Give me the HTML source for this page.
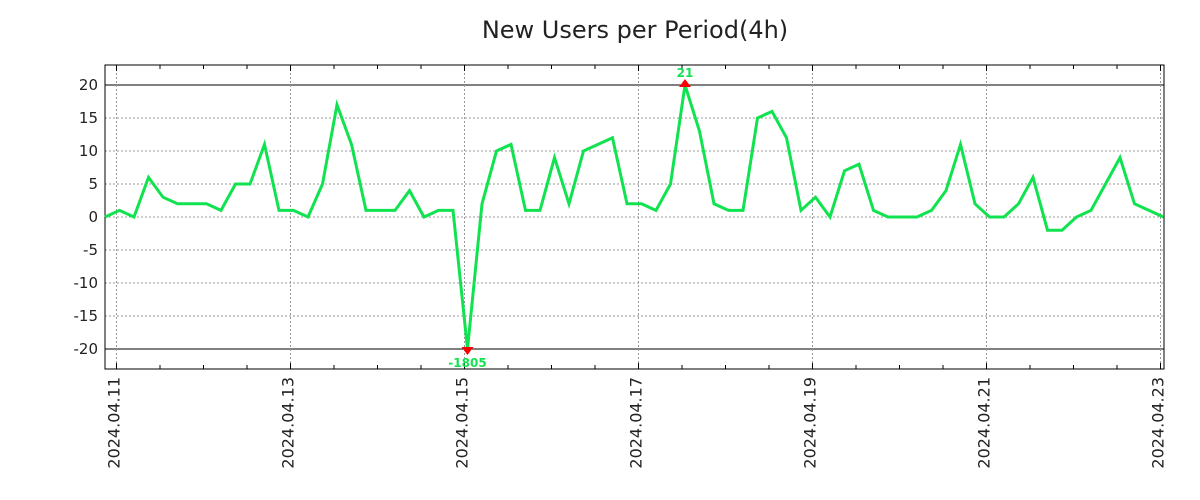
<!DOCTYPE html>
<html><head><meta charset="utf-8"><style>
html,body{margin:0;padding:0;background:#fff;}
svg{display:block;font-family:"DejaVu Sans","Liberation Sans",sans-serif;}
</style></head><body>
<svg id="chart" width="1200" height="500" viewBox="0 0 1200 500">
<rect width="1200" height="500" fill="#fff"/>
<text x="635" y="38" font-size="24" text-anchor="middle" fill="#222">New Users per Period(4h)</text>
<g id="grid"></g><g id="axes"></g><g id="series"></g>
</svg>
<script>
const yTicks=[20,15,10,5,0,-5,-10,-15,-20];
const dateLabels=["2024.04.11","2024.04.13","2024.04.15","2024.04.17","2024.04.19","2024.04.21","2024.04.23"];
const values=[0,1,0,6,3,2,2,2,1,5,5,11,1,1,0,5,17,11,1,1,1,4,0,1,1,-1805,2,10,11,1,1,9,2,10,11,12,2,2,1,5,21,13,2,1,1,15,16,12,1,3,0,7,8,1,0,0,0,1,4,11,2,0,0,2,6,-2,-2,0,1,5,9,2,1,0];
const minIdx=25, maxIdx=40;
const L=105,R=1164,T=65,B=369;
const NS="http://www.w3.org/2000/svg";
function y(v){return 217-v*6.6;}
function xi(i){return 105+i*14.5;}
function xDay(d){return 116.5+d*87;}
function el(t,a,p){const e=document.createElementNS(NS,t);for(const k in a)e.setAttribute(k,a[k]);p.appendChild(e);return e;}
const grid=document.getElementById('grid'),axes=document.getElementById('axes'),ser=document.getElementById('series');
yTicks.forEach(v=>{
 const solid=Math.abs(v)===20;
 const g=el('line',{x1:L,x2:R,y1:y(v),y2:y(v),stroke:solid?'#000':'#999','stroke-width':1,'stroke-dasharray':solid?'':'2,2'},grid);
 
 
 const t=el('text',{x:98,y:y(v)+5,'font-size':15,'text-anchor':'end',fill:'#222'},axes);
 
 
 t.textContent=v;
});
dateLabels.forEach((d,i)=>{
 const x=xDay(i*2);
 const g=el('line',{x1:x,x2:x,y1:T,y2:B,stroke:'#999','stroke-dasharray':'2,2'},grid);
 
 
 const t=el('text',{x:0,y:0,'font-size':16,'text-anchor':'end',fill:'#222',transform:`translate(${x+3},377) rotate(-90)`},axes);
 
 
 t.textContent=d;
});
for(let h=0;h<=24;h++){
 const x=xDay(h/2);if(x>R)break;
 const len=h%4===0?6:4;
 el('line',{x1:x,x2:x,y1:B,y2:B-len,stroke:'#000'},axes);
 el('line',{x1:x,x2:x,y1:T,y2:T+len,stroke:'#000'},axes);
}
const fr=el('rect',{x:L,y:T,width:R-L,height:B-T,fill:'none',stroke:'#000','stroke-width':1},axes);


const pts=values.map((v,i)=>xi(i)+','+y(Math.max(-20,Math.min(20,v)))).join(' ');
const line=el('polyline',{points:pts,fill:'none',stroke:'#11e350','stroke-width':3,'stroke-linejoin':'miter'},ser);


const mx=xi(maxIdx),my=y(20);
const up=el('polygon',{points:`${mx-6},${my+2} ${mx+6},${my+2} ${mx},${my-6}`,fill:'#f00'},ser);


const mt=el('text',{x:mx,y:my-8,'font-size':12,'font-weight':'bold','text-anchor':'middle',fill:'#11e350'},ser);


mt.textContent=values[maxIdx];
const nx=xi(minIdx),ny=y(-20);
const dn=el('polygon',{points:`${nx-6},${ny-2} ${nx+6},${ny-2} ${nx},${ny+6}`,fill:'#f00'},ser);


const nt=el('text',{x:nx,y:ny+18,'font-size':12,'font-weight':'bold','text-anchor':'middle',fill:'#11e350'},ser);


nt.textContent=values[minIdx];
</script>
</body></html>
